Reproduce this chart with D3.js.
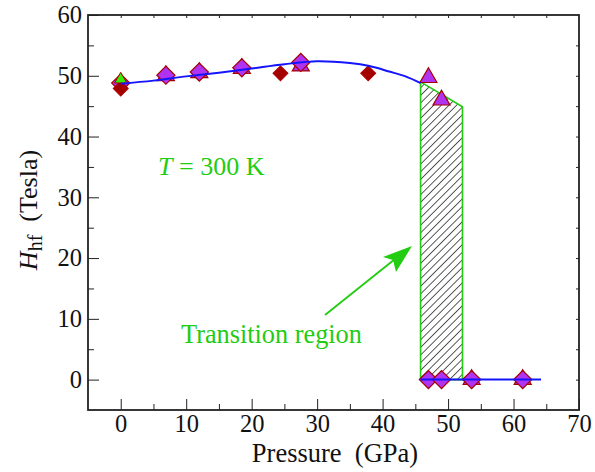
<!DOCTYPE html>
<html lang="en">
<head>
<meta charset="UTF-8">
<title>Hhf vs pressure</title>
<style>
  body { margin: 0; background: #fff; }
  svg { display: block; font-family: "Liberation Serif", "Times New Roman", serif; }
  .axis path, .axis line { stroke: #222; }
  .axis text { font-size: 24.5px; fill: #111; font-family: "Liberation Serif", serif; }
</style>
</head>
<body>
<script src="https://cdn.jsdelivr.net/npm/d3@7/dist/d3.min.js"></script>
<script>
// pressure (GPa) / Hhf (Tesla)
const triP = [6.9, 12.0, 18.5, 27.5, 47.0, 49.0, 53.6, 61.4];
const triH = [50.0, 50.5, 51.2, 51.6, 49.7, 46.0, 0, 0];
const diaP = [0, 6.9, 12.0, 18.5, 27.5, 47.0, 49.0, 53.6, 61.4];
const diaH = [48.8, 50.1, 50.6, 51.3, 52.2, 0, 0, 0, 0];
const darkP = [0, 24.4, 37.8];
const darkH = [47.9, 50.4, 50.4];
const greenP = [0];
const greenH = [49.4];
// fitted curve
const fitP = [0, 5, 10, 15, 20, 25, 30, 35, 38, 41, 43.5, 45.8];
const fitH = [48.7, 49.2, 49.9, 50.5, 51.2, 51.9, 52.4, 52.1, 51.6, 50.7, 49.9, 48.8];
const lowP = [45.8, 64.2];
const lowH = [0, 0];
// transition region outline
const regP = [45.8, 52.2, 52.2, 45.8];
const regH = [49.0, 44.9, 0, 0];

const xTicks = [0, 10, 20, 30, 40, 50, 60, 70];
const yTicks = [0, 10, 20, 30, 40, 50, 60];

const W = 595, H = 472;
const m = {top: 15, right: 16, bottom: 62, left: 88};
const iw = W - m.left - m.right, ih = H - m.top - m.bottom;

const blue = "#1414ff", green = "#22cc11", purple = "#b033f2", dred = "#a50000";

const svg = d3.select("body").append("svg").attr("width", W).attr("height", H);
const g = svg.append("g").attr("transform", `translate(${m.left},${m.top})`);

const x = d3.scaleLinear().domain([-5, 70]).range([0, iw]);
const y = d3.scaleLinear().domain([-5, 60]).range([ih, 0]);

const pat = svg.append("defs").append("pattern")
  .attr("id", "hatch").attr("patternUnits", "userSpaceOnUse")
  .attr("width", 5.4).attr("height", 10)
  .attr("patternTransform", "rotate(45)");
pat.append("line").attr("x1", 0).attr("y1", 0).attr("x2", 0).attr("y2", 10)
  .attr("stroke", "#000").attr("stroke-width", 1.3);

// axes
const minorX = d3.range(5, 70, 10);
const minorY = d3.range(5, 60, 10);

g.append("g").attr("class", "axis").attr("transform", `translate(0,${ih})`)
  .call(d3.axisBottom(x).tickValues(xTicks).tickSizeInner(-11).tickSizeOuter(0).tickPadding(5));
g.append("g").attr("class", "axis").attr("transform", `translate(0,${ih})`)
  .call(d3.axisBottom(x).tickValues(minorX).tickSizeInner(-6).tickSizeOuter(0).tickFormat(""));
g.append("g").attr("class", "axis")
  .call(d3.axisLeft(y).tickValues(yTicks).tickSizeInner(-11).tickSizeOuter(0).tickPadding(6));
g.append("g").attr("class", "axis")
  .call(d3.axisLeft(y).tickValues(minorY).tickSizeInner(-6).tickSizeOuter(0).tickFormat(""));
g.append("g").attr("class", "axis")
  .call(d3.axisTop(x).tickValues(d3.range(0, 70, 5)).tickSizeInner(-3).tickSizeOuter(0).tickFormat(""));
g.append("g").attr("class", "axis").attr("transform", `translate(${iw},0)`)
  .call(d3.axisRight(y).tickValues(d3.range(0, 60, 5)).tickSizeInner(-3).tickSizeOuter(0).tickFormat(""));
g.selectAll(".axis .domain").remove();
g.append("rect").attr("width", iw).attr("height", ih)
  .attr("fill", "none").attr("stroke", "#222").attr("stroke-width", 1.8);

// transition region
const reg = regP.map((p, i) => [x(p), y(regH[i])]);
g.append("path").attr("d", "M" + reg.join("L") + "Z")
  .attr("fill", "url(#hatch)").attr("stroke", green).attr("stroke-width", 1.6);

// markers (diamonds are squares turned 45 degrees)
const tri = d3.symbol().type(d3.symbolTriangle).size(125);
const dia = d3.symbol().type(d3.symbolSquare).size(165);

g.selectAll(".tri").data(triP).join("path").attr("class", "tri")
  .attr("d", tri).attr("transform", (p, i) => `translate(${x(p)},${y(triH[i])})`)
  .attr("fill", purple).attr("stroke", dred).attr("stroke-width", 1.2);
g.selectAll(".dia").data(diaP).join("path").attr("class", "dia")
  .attr("d", dia).attr("transform", (p, i) => `translate(${x(p)},${y(diaH[i])}) rotate(45)`)
  .attr("fill", purple).attr("stroke", dred).attr("stroke-width", 1.2);
g.selectAll(".dark").data(darkP).join("path").attr("class", "dark")
  .attr("d", d3.symbol().type(d3.symbolSquare).size(112))
  .attr("transform", (p, i) => `translate(${x(p)},${y(darkH[i])}) rotate(45)`)
  .attr("fill", dred).attr("stroke", "#b00000").attr("stroke-width", 1);
g.selectAll(".grn").data(greenP).join("path").attr("class", "grn")
  .attr("d", d3.symbol().type(d3.symbolTriangle).size(65))
  .attr("transform", (p, i) => `translate(${x(p)},${y(greenH[i])})`)
  .attr("fill", "#33ee00").attr("stroke", dred).attr("stroke-width", 1);

// fitted lines
const line = d3.line().x(d => x(d[0])).y(d => y(d[1]));
g.append("path").attr("d", line.curve(d3.curveCatmullRom)(fitP.map((p, i) => [p, fitH[i]])))
  .attr("fill", "none").attr("stroke", blue).attr("stroke-width", 2);
g.append("path").attr("d", d3.line().x(d => x(d[0])).y(d => y(d[1]))(lowP.map((p, i) => [p, lowH[i]])))
  .attr("fill", "none").attr("stroke", blue).attr("stroke-width", 2);

// annotations
const t1 = svg.append("text").attr("x", 158).attr("y", 175)
  .attr("font-size", 26).attr("fill", green);
t1.append("tspan").attr("font-style", "italic").text("T");
t1.append("tspan").text(" = 300 K");

svg.append("text").attr("x", 181).attr("y", 343).attr("font-size", 26.3)
  .attr("fill", green).text("Transition region");

svg.append("line").attr("x1", 325).attr("y1", 315).attr("x2", 395).attr("y2", 259)
  .attr("stroke", green).attr("stroke-width", 1.8);
svg.append("path").attr("d", "M412,246 L383,257 L393,260 L396,272 Z").attr("fill", green);

// axis titles
svg.append("text").attr("x", 335).attr("y", 462).attr("text-anchor", "middle")
  .attr("font-size", 26.5).attr("fill", "#111").attr("xml:space", "preserve")
  .text("Pressure  (GPa)");

const yl = svg.append("text").attr("transform", "translate(37,210) rotate(-90)")
  .attr("text-anchor", "middle").attr("font-size", 26).attr("fill", "#111")
  .attr("xml:space", "preserve");
yl.append("tspan").attr("font-style", "italic").text("H");
yl.append("tspan").attr("font-size", 20).attr("dy", 5).text("hf");
yl.append("tspan").attr("dy", -5).text("  (Tesla)");
</script>
</body>
</html>
